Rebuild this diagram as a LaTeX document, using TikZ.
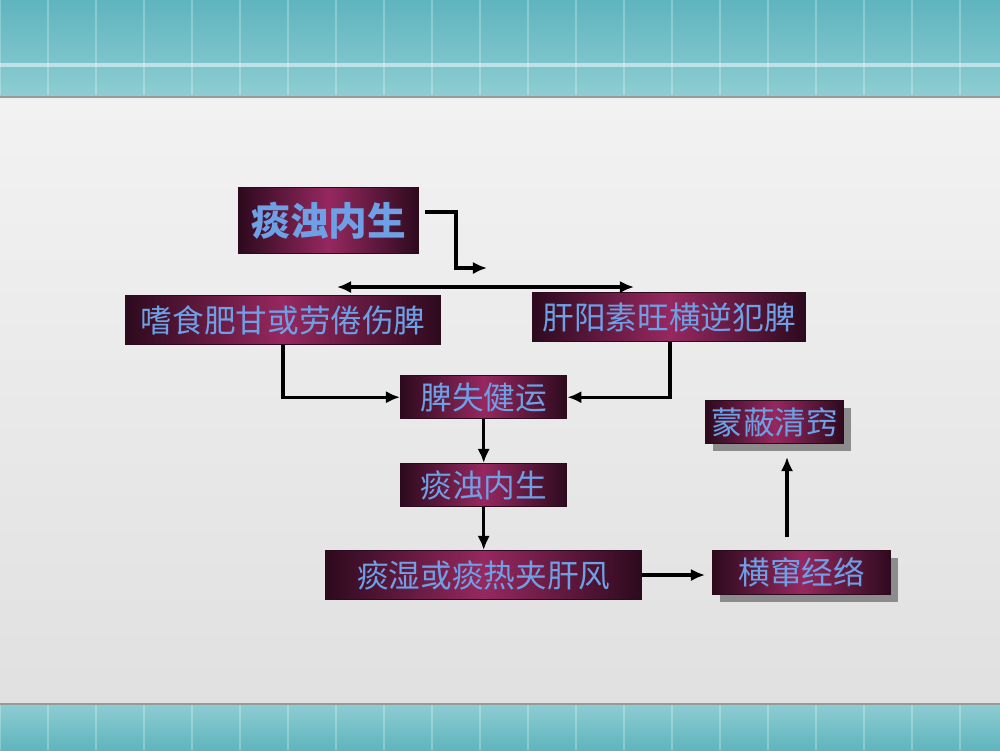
\documentclass[tikz,border=0pt]{standalone}
\usepackage{fontspec}
\newfontfamily\cjk{Noto Sans CJK SC}
\usetikzlibrary{arrows.meta}
\definecolor{teal1}{RGB}{95,180,190}
\definecolor{teal2}{RGB}{140,205,210}
\definecolor{boxdark}{RGB}{45,10,30}
\definecolor{boxmid}{RGB}{150,40,95}
\definecolor{txtblue}{RGB}{110,160,230}
\begin{document}
\begin{tikzpicture}[x=0.01cm, y=-0.01cm,
    box/.style={draw=boxdark, left color=boxdark, right color=boxdark, middle color=boxmid,
                text=txtblue, font=\cjk\fontsize{9}{10}\selectfont, inner sep=0pt, anchor=north west},
    shad/.style={fill=black!45},
    arr/.style={-{Latex[length=4pt,width=3.5pt]}, line width=0.9pt}]
    % background
    \useasboundingbox (0,0) rectangle (1000,750);
    \fill[top color=white!95!black, bottom color=white!88!black] (0,95) rectangle (1000,705);
    \fill[top color=teal1, bottom color=teal2] (0,0) rectangle (1000,95);
    \fill[top color=teal2, bottom color=teal1] (0,705) rectangle (1000,750);
    \foreach \x in {0,48,...,1000} {
        \draw[white, opacity=0.25] (\x,0) -- (\x,95);
        \draw[white, opacity=0.25] (\x,705) -- (\x,750);
    }
    \draw[white, opacity=0.5, line width=1pt] (0,65) -- (1000,65);
    \draw[black!40] (0,97) -- (1000,97);
    \draw[black!40] (0,704) -- (1000,704);

    % boxes
    \node[box, minimum width=180*0.01cm, minimum height=66*0.01cm,
          font=\cjk\bfseries\fontsize{11}{12}\selectfont] (tanzhuo) at (238,187) {痰浊内生};
    \node[box, minimum width=315*0.01cm, minimum height=49*0.01cm] (shishi) at (125,295) {嗜食肥甘或劳倦伤脾};
    \node[box, minimum width=273*0.01cm, minimum height=49*0.01cm] (ganyang) at (532,292) {肝阳素旺横逆犯脾};
    \node[box, minimum width=166*0.01cm, minimum height=43*0.01cm] (pishi) at (400,375) {脾失健运};
    \node[box, minimum width=166*0.01cm, minimum height=43*0.01cm] (neisheng) at (400,463) {痰浊内生};
    \node[box, minimum width=316*0.01cm, minimum height=49*0.01cm] (tanshi) at (325,550) {痰湿或痰热夹肝风};
    \fill[shad] (720,558) rectangle (898,602);
    \node[box, minimum width=178*0.01cm, minimum height=44*0.01cm] (hengcuan) at (712,550) {横窜经络};
    \fill[shad] (713,408) rectangle (851,451);
    \node[box, minimum width=138*0.01cm, minimum height=43*0.01cm] (mengbi) at (705,400) {蒙蔽清窍};

    % connectors
    \coordinate (t1) at (425,212);
    \coordinate (t2) at (487,268);
    \coordinate (la) at (337,287);
    \coordinate (ra) at (634,287);
    \draw[arr] (t1) -- (456,212) -- (456,268) -- (t2);
    \draw[{Latex[length=4pt,width=3.5pt]}-{Latex[length=4pt,width=3.5pt]}, line width=0.9pt] (la) -- (ra);
    \draw[arr] (shishi.south -| 283,0) |- (pishi.west);
    \draw[arr] (ganyang.south -| 670,0) |- (pishi.east);
    \draw[arr] (pishi) -- (neisheng);
    \draw[arr] (neisheng) -- (tanshi);
    \draw[arr] (tanshi.east |- 0,575) -- (705,575);
    \draw[arr] (787,537) -- (787,457);
\end{tikzpicture}
\end{document}
